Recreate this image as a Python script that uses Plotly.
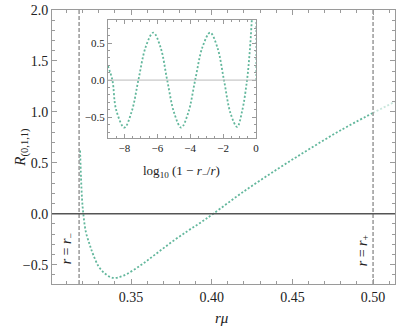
import plotly.graph_objects as go

# ---- data ----
r_minus = 0.3178
r_plus = 0.50

main_r = [0.3184, 0.3190, 0.3196, 0.3204, 0.3220, 0.3245, 0.3265, 0.3300, 0.3340,
          0.3388, 0.3450, 0.3556, 0.3650, 0.3750, 0.3850, 0.3928, 0.4010, 0.4200,
          0.4409, 0.4600, 0.4800, 0.5000]
main_R = [0.62, 0.35, 0.15, 0.00, -0.18, -0.31, -0.40, -0.52, -0.59,
          -0.63, -0.61, -0.51, -0.40, -0.28, -0.17, -0.09, 0.00, 0.22,
          0.44, 0.63, 0.82, 0.99]

tail_r = [0.5000, 0.5136]
tail_R = [0.99, 1.10]

inset_x = [-9.0, -8.73, -8.5, -8.0, -7.55, -7.15, -6.7, -6.24, -5.8, -5.4, -4.98,
           -4.55, -4.12, -3.7, -3.25, -2.79, -2.35, -1.95, -1.55, -1.15, -0.85,
           -0.55, -0.38, -0.25]
inset_y = [0.19, 0.0, -0.40, -0.64, -0.42, 0.0, 0.45, 0.64, 0.44, 0.0, -0.44,
           -0.64, -0.44, 0.0, 0.45, 0.64, 0.44, 0.0, -0.45, -0.63, -0.42,
           0.0, 0.40, 0.85]
edge_x = [0.0, 0.0]
edge_y = [0.0, 0.81]

x_ticks = [0.35, 0.40, 0.45, 0.50]
x_ticktext = ["0.35", "0.40", "0.45", "0.50"]
y_ticks = [-0.5, 0.0, 0.5, 1.0, 1.5, 2.0]
y_ticktext = ["\u22120.5", "0.0", "0.5", "1.0", "1.5", "2.0"]
ix_ticks = [-8, -6, -4, -2, 0]
ix_ticktext = ["\u22128", "\u22126", "\u22124", "\u22122", "0"]
iy_ticks = [-0.5, 0.0, 0.5]
iy_ticktext = ["\u22120.5", "0.0", "0.5"]

GREEN = "#62b79c"
FONT = "Liberation Serif"
FRAME = "#9a9a9a"
DOT = "2px,2px"

fig = go.Figure()
fig.add_trace(go.Scatter(x=main_r, y=main_R, mode="lines", line_shape="spline",
                         line=dict(color=GREEN, width=1.8, dash=DOT),
                         xaxis="x", yaxis="y", showlegend=False))
fig.add_trace(go.Scatter(x=tail_r, y=tail_R, mode="lines",
                         line=dict(color="rgba(98,183,156,0.35)", width=1.8, dash=DOT),
                         xaxis="x", yaxis="y", showlegend=False))
fig.add_trace(go.Scatter(x=inset_x, y=inset_y, mode="lines", line_shape="spline",
                         line=dict(color=GREEN, width=1.8, dash=DOT),
                         xaxis="x2", yaxis="y2", showlegend=False))
fig.add_trace(go.Scatter(x=edge_x, y=edge_y, mode="lines",
                         line=dict(color="rgba(98,183,156,0.6)", width=1.8, dash=DOT),
                         xaxis="x2", yaxis="y2", showlegend=False))

axis_common = dict(showline=True, linecolor=FRAME, linewidth=1, mirror="ticks",
                   ticks="inside", tickcolor=FRAME, showgrid=False, zeroline=False,
                   automargin=False)

fig.update_layout(
    width=399, height=332,
    margin=dict(l=52, r=4, t=10, b=48),
    paper_bgcolor="white", plot_bgcolor="white",
    font=dict(family=FONT, color="#222", size=14),
    xaxis=dict(range=[0.301, 0.5136], tickvals=x_ticks, ticktext=x_ticktext,
               ticklen=5, minor=dict(dtick=0.01, ticklen=3, ticks="inside", tickcolor=FRAME),
               tickfont=dict(size=14, family=FONT), **axis_common),
    yaxis=dict(range=[-0.69, 2.0], tickvals=y_ticks, ticktext=y_ticktext,
               ticklen=5, minor=dict(dtick=0.1, ticklen=3, ticks="inside", tickcolor=FRAME),
               tickfont=dict(size=14, family=FONT), **axis_common),
    xaxis2=dict(domain=[0.163, 0.595], anchor="y2", range=[-9, 0],
                tickvals=ix_ticks, ticktext=ix_ticktext, ticklen=4,
                minor=dict(dtick=0.5, ticklen=2, ticks="inside", tickcolor=FRAME),
                tickfont=dict(size=11, family=FONT), **axis_common),
    yaxis2=dict(domain=[0.533, 0.9635], anchor="x2", range=[-0.78, 0.81],
                tickvals=iy_ticks, ticktext=iy_ticktext, ticklen=4,
                minor=dict(dtick=0.1, ticklen=2, ticks="inside", tickcolor=FRAME),
                tickfont=dict(size=11, family=FONT), **axis_common),
    shapes=[
        dict(type="line", xref="x", yref="paper", x0=r_minus, x1=r_minus, y0=0, y1=1,
             line=dict(color="#999", width=1.5, dash="4px,2px")),
        dict(type="line", xref="x", yref="paper", x0=r_plus, x1=r_plus, y0=0, y1=1,
             line=dict(color="#999", width=1.5, dash="4px,2px")),
        dict(type="line", xref="paper", yref="y", x0=0, x1=1, y0=0, y1=0,
             line=dict(color="#555", width=1.5)),
        dict(type="line", xref="x2 domain", yref="y2", x0=0, x1=1, y0=0, y1=0,
             line=dict(color="#bbb", width=1)),
    ],
    annotations=[
        dict(text="<i>r</i> = <i>r</i><sub>\u2212</sub>", x=0.3103, y=-0.34, xref="x", yref="y",
             showarrow=False, textangle=-90, font=dict(size=14, family=FONT)),
        dict(text="<i>r</i> = <i>r</i><sub>+</sub>", x=0.4937, y=-0.36, xref="x", yref="y",
             showarrow=False, textangle=-90, font=dict(size=14, family=FONT)),
        dict(text="<i>R</i><sub>(0,1,1)</sub>", x=-0.125, y=0.5, xref="paper", yref="paper",
             showarrow=False, textangle=-90, font=dict(size=15, family=FONT)),
        dict(text="<i>r\u03bc</i>", x=0.496, y=-0.16, xref="paper", yref="paper",
             showarrow=False, font=dict(size=15, family=FONT)),
        dict(text="log<sub>10</sub> (1 \u2212 <i>r</i><sub>\u2212</sub>/<i>r</i>)",
             x=0.379, y=0.41, xref="paper", yref="paper",
             showarrow=False, font=dict(size=13, family=FONT)),
    ],
)

fig.write_html("out.html", config={"displayModeBar": False},
               post_script="document.body.style.margin='0';")
